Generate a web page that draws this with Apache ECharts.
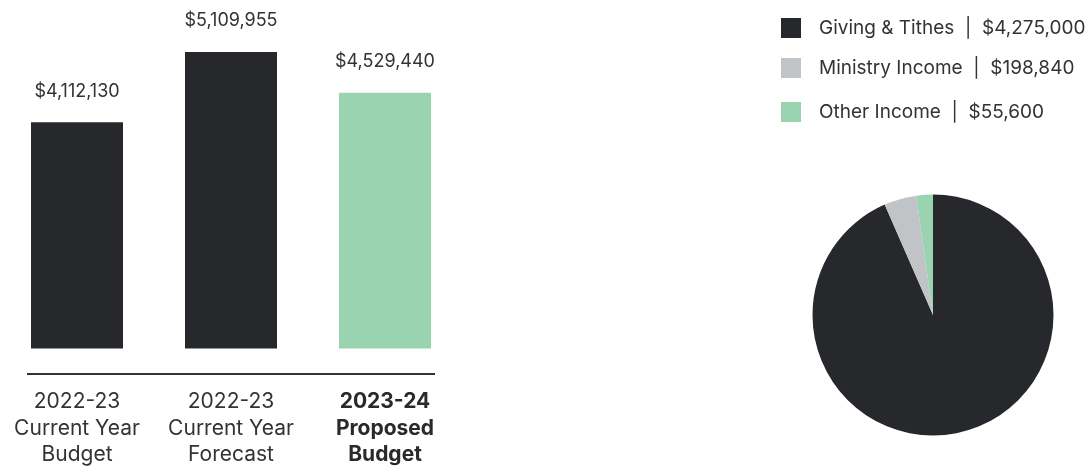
<!DOCTYPE html>
<html>
<head>
<meta charset="utf-8">
<script src="https://cdn.jsdelivr.net/npm/echarts@6/dist/echarts.min.js"></script>
<style>
html,body{margin:0;padding:0;background:#fff;}
#c{width:1088px;height:468px;}
</style>
</head>
<body>
<div id="c"></div>
<script>
var barCategories = ['2022-23\nCurrent Year\nBudget', '2022-23\nCurrent Year\nForecast', '2023-24\nProposed\nBudget'];
var barValues = [4112130, 5109955, 4529440];
var pieNames = ['Giving & Tithes', 'Ministry Income', 'Other Income'];
var pieValues = [4275000, 198840, 55600];

var DARK = '#27282c', GRAY = '#c1c4c7', GREEN = '#9ad3b0';
var barColors = [DARK, DARK, GREEN];
var pieColors = [DARK, GRAY, GREEN];
var FONT = 'Inter, "Open Sans", sans-serif';

function money(v){ return '$' + v.toLocaleString('en-US'); }

var chart = echarts.init(document.getElementById('c'));
var legendTops = [18, 58, 102];
var option = {
  animation: false,
  textStyle: {fontFamily: FONT},
  grid: {left: -3, width: 465, top: 31.5, bottom: 119},
  xAxis: {
    type: 'category', data: barCategories,
    axisLine: {show: false}, axisTick: {show: false},
    axisLabel: {
      interval: 0, hideOverlap: false,
      margin: 40, fontSize: 21, lineHeight: 26.5, color: '#333', fontFamily: FONT,
      formatter: function(v, i){ return i === 2 ? '{b|' + v.split('\n').join('}\n{b|') + '}' : v; },
      rich: {b: {fontWeight: 'bold', fontSize: 21, lineHeight: 26.5, color: '#2a2a2a', fontFamily: FONT}}
    }
  },
  yAxis: {type: 'value', min: 900000, max: 5400000, show: false, splitLine: {show: false}},
  legend: pieNames.map(function(n, i){
    return {
      data: [n], left: 781, top: legendTops[i], orient: 'vertical', padding: 0,
      itemWidth: 20, itemHeight: 20, itemGap: 18, icon: 'rect',
      textStyle: {fontSize: 19, color: '#333', fontFamily: FONT, padding: [0,0,0,13]},
      formatter: function(name){ return name + '  |  ' + money(pieValues[pieNames.indexOf(name)]); }
    };
  }),
  graphic: [{type: 'line', shape: {x1: 27, y1: 374, x2: 435, y2: 374}, style: {stroke: '#333', lineWidth: 2}}],
  series: [
    {
      type: 'bar', barWidth: 92,
      data: barValues.map(function(v, i){ return {value: v, itemStyle: {color: barColors[i]}}; }),
      label: {show: true, position: 'top', distance: 22, fontSize: 18, color: '#333', fontFamily: FONT,
        formatter: function(p){ return money(p.value); }}
    },
    {
      type: 'pie', center: [933, 315], radius: 120.5, startAngle: 90, clockwise: true, minAngle: 8,
      label: {show: false}, labelLine: {show: false},
      data: pieNames.map(function(n, i){ return {name: n, value: pieValues[i], itemStyle: {color: pieColors[i]}}; })
    }
  ]
};
chart.setOption(option);
</script>
</body>
</html>
